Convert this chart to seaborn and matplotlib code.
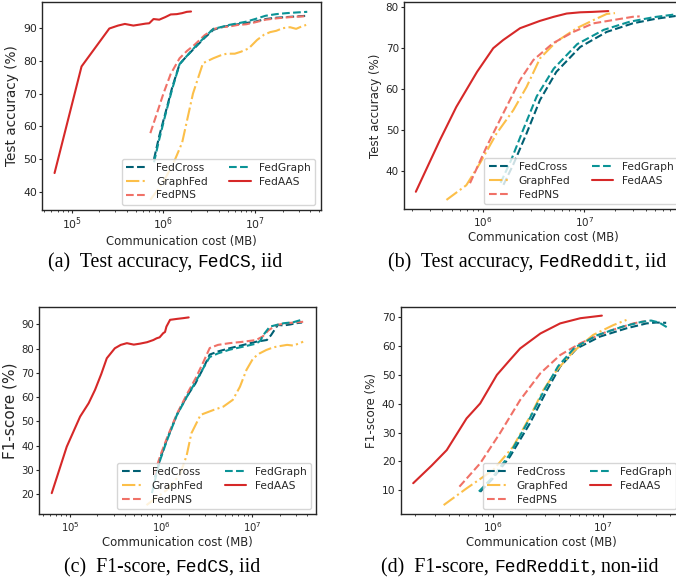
import numpy as np
import pandas as pd
import matplotlib
matplotlib.use("Agg")
import matplotlib.pyplot as plt
from matplotlib.ticker import MultipleLocator
import seaborn as sns

# ---------------- data ----------------
methods = ["FedCross", "GraphFed", "FedPNS", "FedGraph", "FedAAS"]
colors = {"FedCross": "#005f73", "GraphFed": "#fcbf49", "FedPNS": "#f07167",
          "FedGraph": "#0a9396", "FedAAS": "#d62828"}
styles = {"FedCross": "--", "GraphFed": "-.", "FedPNS": "--", "FedGraph": "--", "FedAAS": "-"}

# (a) Test accuracy, FedCS, iid
a_FedCross_x = [7.9e5, 9e5, 1.05e6, 1.25e6, 1.5e6, 1.8e6, 2.2e6, 2.8e6, 3.5e6, 4.2e6, 5.2e6, 6.5e6, 8e6, 1.0e7, 1.3e7, 1.7e7, 2.2e7, 2.8e7, 3.7e7]
a_FedCross_y = [50, 57, 64, 72, 79, 81.5, 84, 87, 89.5, 90.2, 90.8, 91.2, 91.6, 92, 92.8, 93.2, 93.4, 93.6, 93.8]
a_FedGraph_x = [7.9e5, 9e5, 1.05e6, 1.25e6, 1.5e6, 1.8e6, 2.2e6, 2.8e6, 3.5e6, 4.2e6, 5.2e6, 6.5e6, 8e6, 1.0e7, 1.3e7, 1.7e7, 2.2e7, 2.8e7, 3.7e7]
a_FedGraph_y = [49, 56, 63.5, 71.5, 79, 81.5, 84.2, 87.2, 89.8, 90.3, 91, 91.5, 92, 92.8, 93.8, 94.3, 94.6, 94.8, 95.0]
a_FedPNS_x = [7.2e5, 8.5e5, 1.0e6, 1.2e6, 1.5e6, 1.8e6, 2.2e6, 2.8e6, 3.5e6, 4.2e6, 5.2e6, 6.5e6, 8e6, 1.0e7, 1.3e7, 1.7e7, 2.2e7, 2.8e7, 3.7e7]
a_FedPNS_y = [57.9, 64, 70, 76, 80.8, 83, 85, 87.8, 89.7, 90.3, 90.5, 91, 91.2, 91.8, 92.6, 93, 93.3, 93.5, 93.7]
a_GraphFed_x = [7.2e5, 1.0e6, 1.3e6, 1.6e6, 2.1e6, 2.7e6, 3.5e6, 4.3e6, 4.9e6, 6.0e6, 7.0e6, 8.5e6, 1.05e7, 1.25e7, 1.46e7, 1.7e7, 2.0e7, 2.4e7, 2.8e7, 3.2e7, 3.6e7]
a_GraphFed_y = [37.5, 43, 49, 55, 70, 79.3, 80.8, 81.8, 82.2, 82.2, 82.8, 83.8, 86.4, 88, 88.8, 89.2, 90, 90.3, 89.8, 90.5, 91]
a_FedAAS_x = [6.5e4, 1.28e5, 2.57e5, 3.2e5, 3.8e5, 4.7e5, 5.5e5, 6.4e5, 7.0e5, 7.8e5, 9.0e5, 1.05e6, 1.2e6, 1.4e6, 1.6e6, 1.8e6, 2.0e6]
a_FedAAS_y = [45.7, 78.3, 89.9, 90.8, 91.3, 90.8, 91.1, 91.4, 91.5, 92.8, 92.6, 93.4, 94.2, 94.3, 94.6, 95.0, 95.1]

# (b) Test accuracy, FedReddit, iid
b_FedCross_x = [1.6e6, 2.0e6, 2.7e6, 3.66e6, 5.3e6, 9.1e6, 1.66e7, 3.0e7, 5.0e7, 7.9e7]
b_FedCross_y = [36.5, 41.5, 49.1, 57.3, 64.2, 70.3, 74.0, 76.1, 77.2, 77.9]
b_FedGraph_x = [1.5e6, 1.9e6, 2.5e6, 3.4e6, 5.0e6, 8.5e6, 1.55e7, 2.8e7, 4.8e7, 7.9e7]
b_FedGraph_y = [37, 42.5, 50, 58.2, 65, 71.0, 74.5, 76.5, 77.6, 78.3]
b_FedPNS_x = [7.5e5, 1.09e6, 1.59e6, 2.33e6, 3.15e6, 4.9e6, 7.8e6, 1.23e7, 1.92e7, 3.0e7, 3.5e7]
b_FedPNS_y = [36.9, 45.8, 54, 62.2, 67.1, 71.2, 74, 76.1, 76.9, 77.7, 77.8]
b_GraphFed_x = [4.4e5, 6.9e5, 9.4e5, 1.37e6, 2.0e6, 2.7e6, 3.66e6, 5.3e6, 8.4e6, 1.23e7, 1.66e7, 2.0e7]
b_GraphFed_y = [32.8, 36.4, 41.8, 49.1, 54.8, 60.5, 67.5, 71.6, 74.9, 76.9, 78.4, 78.6]
b_FedAAS_x = [2.2e5, 3.8e5, 5.5e5, 8.8e5, 1.27e6, 1.59e6, 2.33e6, 3.66e6, 5.0e6, 6.7e6, 9.1e6, 1.2e7, 1.72e7]
b_FedAAS_y = [34.8, 47.5, 55.6, 64.2, 70.0, 72.0, 74.9, 76.7, 77.7, 78.5, 78.8, 78.9, 79.1]

# (c) F1-score, FedCS, iid
c_FedCross_x = [8.5e5, 1.0e6, 1.15e6, 1.48e6, 1.9e6, 2.36e6, 2.9e6, 3.4e6, 4.2e6, 5.6e6, 8.0e6, 1.1e7, 1.44e7, 1.6e7, 1.7e7, 1.9e7, 2.2e7, 2.6e7, 3.0e7, 3.5e7]
c_FedCross_y = [27, 36, 42.4, 52.7, 60.2, 65.5, 72, 77.5, 78.8, 80.1, 81.5, 82.8, 83.5, 85.5, 87, 89.7, 89.5, 89.9, 90.4, 90.7]
c_FedGraph_x = [7.9e5, 9.5e5, 1.15e6, 1.48e6, 1.9e6, 2.4e6, 2.9e6, 3.4e6, 4.2e6, 5.6e6, 8.0e6, 1.1e7, 1.22e7, 1.32e7, 1.55e7, 2.2e7, 2.8e7, 3.6e7]
c_FedGraph_y = [20.5, 33, 42, 52.5, 60, 66.5, 72, 76.5, 78, 79.5, 80.8, 82, 83.2, 85.6, 89, 90.4, 90.8, 92]
c_FedPNS_x = [8.3e5, 1.0e6, 1.15e6, 1.48e6, 1.9e6, 2.4e6, 2.9e6, 3.4e6, 4.2e6, 5.6e6, 8.0e6, 1.1e7, 1.3e7, 1.5e7, 1.85e7, 2.5e7, 3.6e7]
c_FedPNS_y = [28, 37, 43, 53, 61, 68, 74.5, 80.2, 81.5, 82.2, 82.8, 83.5, 85, 87.5, 89.7, 90.5, 91]
c_GraphFed_x = [6.9e5, 1.15e6, 1.6e6, 1.9e6, 2.14e6, 2.7e6, 3.73e6, 4.8e6, 6.1e6, 7.3e6, 8.6e6, 1.02e7, 1.2e7, 1.42e7, 1.7e7, 2.0e7, 2.4e7, 2.8e7, 3.2e7, 3.6e7]
c_GraphFed_y = [15.6, 21.8, 28, 36, 45.1, 52.7, 54.7, 56.1, 58.9, 64.3, 71.2, 76, 78, 79.4, 80.5, 81, 81.5, 81.2, 82, 82.8]
c_FedAAS_x = [6.3e4, 9.2e4, 1.29e5, 1.6e5, 1.88e5, 2.2e5, 2.53e5, 3.1e5, 3.6e5, 4.2e5, 5.0e5, 5.85e5, 7.0e5, 8.2e5, 8.9e5, 9.6e5, 1.05e6, 1.1e6, 1.14e6, 1.25e6, 1.5e6, 1.75e6, 2.0e6]
c_FedAAS_y = [20.5, 39.6, 52, 57.5, 63, 69.5, 76, 80.1, 81.5, 82.2, 81.6, 82.0, 82.6, 83.5, 84.2, 84.6, 86.3, 86.8, 89.0, 91.8, 92.2, 92.5, 92.8]

# (d) F1-score, FedReddit, non-iid
d_FedCross_x = [7.7e5, 1.0e6, 1.43e6, 2.17e6, 3.1e6, 4.07e6, 5.75e6, 9.3e6, 1.62e7, 2.46e7, 3.0e7, 3.7e7]
d_FedCross_y = [9.4, 14, 21.6, 33.2, 44.8, 52.9, 59.2, 63.3, 66.2, 67.9, 68.2, 68.1]
d_FedGraph_x = [7.5e5, 1.0e6, 1.4e6, 2.1e6, 3.0e6, 3.9e6, 5.5e6, 8.8e6, 1.5e7, 2.2e7, 2.7e7, 3.2e7, 3.9e7]
d_FedGraph_y = [9.5, 14.5, 22, 34, 45.5, 53, 59.5, 63.8, 66.8, 68.4, 68.9, 68.2, 66.2]
d_FedPNS_x = [5.0e5, 7.7e5, 1.16e6, 1.77e6, 2.7e6, 4.07e6, 6.2e6, 1.07e7, 1.87e7, 2.4e7]
d_FedPNS_y = [11.2, 19.3, 29.7, 41.3, 50.6, 56.9, 61, 65, 67.9, 68.7]
d_GraphFed_x = [3.6e5, 5.8e5, 1.01e6, 1.53e6, 2.17e6, 2.87e6, 3.8e6, 5.35e6, 8.1e6, 1.23e7, 1.62e7]
d_GraphFed_y = [4.8, 10.6, 17, 25.1, 35.5, 44.8, 51.7, 58.1, 63.9, 67.3, 69.1]
d_FedAAS_x = [1.91e5, 2.8e5, 3.84e5, 5.8e5, 7.7e5, 1.09e6, 1.43e6, 1.77e6, 2.7e6, 4.07e6, 6.2e6, 9.7e6]
d_FedAAS_y = [12.4, 18.5, 23.9, 34.9, 40.1, 50, 55.2, 59.2, 64.4, 67.9, 69.7, 70.6]

panels = {
    "a": {m: (globals()[f"a_{m}_x"], globals()[f"a_{m}_y"]) for m in methods},
    "b": {m: (globals()[f"b_{m}_x"], globals()[f"b_{m}_y"]) for m in methods},
    "c": {m: (globals()[f"c_{m}_x"], globals()[f"c_{m}_y"]) for m in methods},
    "d": {m: (globals()[f"d_{m}_x"], globals()[f"d_{m}_y"]) for m in methods},
}
ylabels = {"a": "Test accuracy (%)", "b": "Test accuracy (%)", "c": "F1-score (%)", "d": "F1-score (%)"}
xlabel = "Communication cost (MB)"
captions = {
    "a": [("(a)  Test accuracy,", "serif"), ("FedCS", "mono"), (", iid", "serif")],
    "b": [("(b)  Test accuracy,", "serif"), ("FedReddit", "mono"), (", iid", "serif")],
    "c": [("(c)  F1-score,", "serif"), ("FedCS", "mono"), (", iid", "serif")],
    "d": [("(d)  F1-score,", "serif"), ("FedReddit", "mono"), (", non-iid", "serif")],
}

# ---------------- layout (pixels) ----------------
W, H = 676, 586
layout = {
    # left, right, top, bottom, xlim(log10), ylim, ylabel size, tick size
    "a": (42, 320.7, 1.7, 210, (4.676, 7.715), (34.4, 98.1), 9.8, 7.8),
    "b": (404, 683, 1.7, 209.3, (5.226, 7.97), (30.5, 81.4), 8.5, 7.5),
    "c": (39.3, 316, 306.7, 514.3, (4.663, 7.697), (11.8, 97.2), 11.0, 7.3),
    "d": (400.7, 681.3, 306.7, 514.3, (5.168, 7.705), (1.6, 73.7), 8.6, 7.7),
}
cap_pos = {"a": (165, 267), "b": (527, 267), "c": (162, 572), "d": (520, 572)}

sns.set_theme(style="ticks")
plt.rcParams["font.family"] = ["DejaVu Sans"]
plt.rcParams.update({
    "axes.edgecolor": "0.15", "axes.linewidth": 1.0,
    "xtick.major.size": 2.5, "xtick.minor.size": 1.5, "ytick.major.size": 2.5,
    "xtick.major.pad": 1.5, "ytick.major.pad": 1.2,
    "xtick.major.width": 0.8, "ytick.major.width": 0.8, "xtick.minor.width": 0.6,
})

fig = plt.figure(figsize=(W / 100, H / 100), dpi=100)
fig.patch.set_facecolor("white")

for key, (l, r, t, b, xl, yl, ylfs, tfs) in layout.items():
    ax = fig.add_axes([l / W, 1 - b / H, (r - l) / W, (b - t) / H])
    for m in methods:
        xs, ys = panels[key][m]
        sns.lineplot(x=xs, y=ys, ax=ax, color=colors[m], linestyle=styles[m],
                     linewidth=1.5, label=m, sort=False, estimator=None)
    ax.set_xscale("log")
    ax.set_xlim(10 ** xl[0], 10 ** xl[1])
    ax.set_ylim(*yl)
    ax.yaxis.set_major_locator(MultipleLocator(10))
    ax.tick_params(axis="both", which="both", labelsize=tfs)
    ax.set_xlabel(xlabel, fontsize=8.4, labelpad=2)
    ax.set_ylabel(ylabels[key], fontsize=ylfs, labelpad=3)
    for s in ax.spines.values():
        s.set_visible(True)
    ax.legend(ncol=2, loc="lower right", fontsize=7.7, frameon=True, framealpha=0.8,
              fancybox=True, edgecolor="0.8", labelspacing=0.35, borderaxespad=0.5)

# ---------------- captions ----------------
fig.canvas.draw()
renderer = fig.canvas.get_renderer()
fams = {"serif": ("Liberation Serif", 14.3), "mono": ("Liberation Mono", 13.0)}
gap = 0.25 * 14.3 * 100 / 72
for key, parts in captions.items():
    cx, base = cap_pos[key]
    texts, widths = [], []
    for i, (txt, f) in enumerate(parts):
        fam, sz = fams[f]
        tx = fig.text(0, 0, txt, family=fam, fontsize=sz, va="baseline", ha="left", color="black")
        widths.append(tx.get_window_extent(renderer).width)
        texts.append(tx)
    total = sum(widths) + gap
    x = cx - total / 2
    for i, (tx, w) in enumerate(zip(texts, widths)):
        tx.set_position((x / W, 1 - base / H))
        x += w
        if i == 0:
            x += gap

fig.savefig("out.png", dpi=100)
